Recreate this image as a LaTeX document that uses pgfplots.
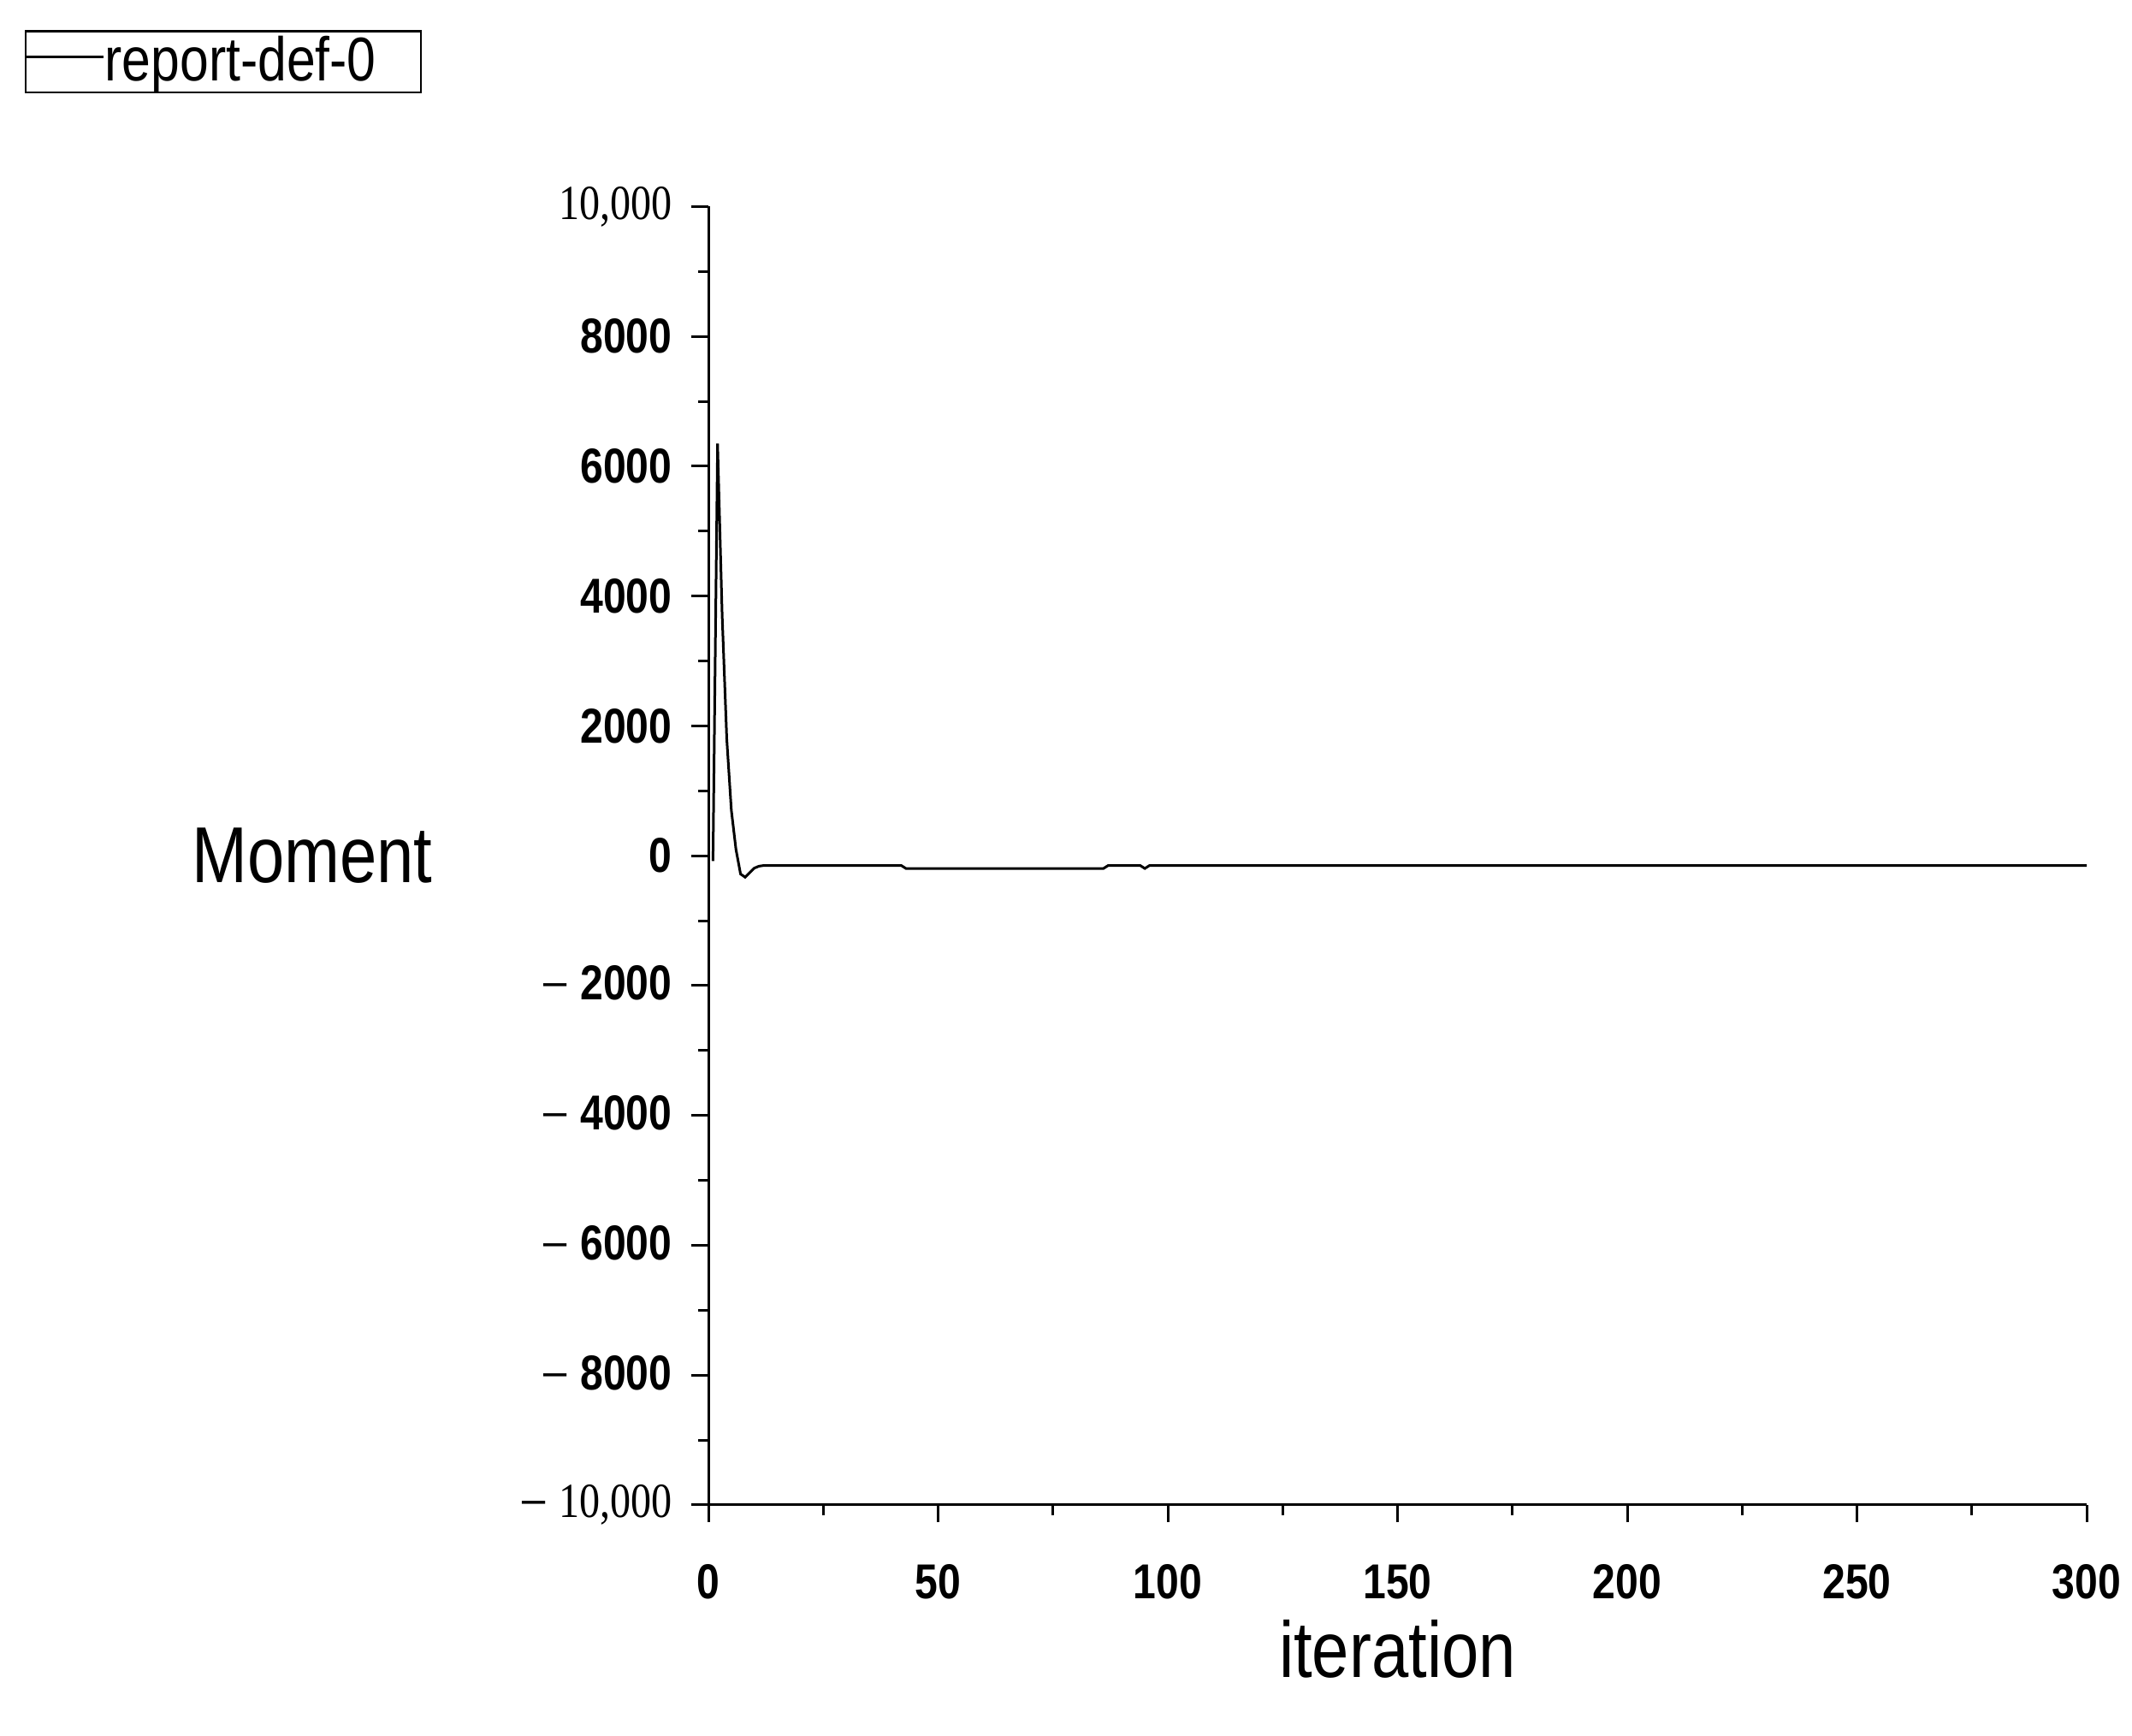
\documentclass[border=0pt]{standalone}
\usepackage{fontspec}
\setmainfont[FakeStretch=0.84]{Liberation Sans}
\newfontfamily\serifnarrow[FakeStretch=0.84]{Liberation Serif}
\usepackage{pgfplots}
\pgfplotsset{compat=1.18}

\newcommand{\neglab}[1]{\raisebox{-1.2bp}{\mdseries\serifnarrow\fontsize{14}{14}\selectfont −}\hspace{2.5bp}#1}

\begin{document}
\begin{tikzpicture}
\useasboundingbox (0,0) rectangle (498.4bp,405.8bp);
\begin{axis}[
    at={(165.6bp,54bp)}, anchor=south west,
    scale only axis,
    width=322.2bp, height=303.5bp,
    axis lines*=left,
    xmin=0, xmax=300,
    ymin=-10000, ymax=10000,
    scaled y ticks=false,
    xtick={0,50,...,300},
    xticklabels={0,50,100,150,200,250,300},
    minor x tick num=1,
    ytick={-10000,-8000,...,10000},
    yticklabels={
        {\neglab{\mdseries\serifnarrow 10,000}},
        {\neglab{8000}}, {\neglab{6000}}, {\neglab{4000}}, {\neglab{2000}},
        {0}, {2000}, {4000}, {6000}, {8000},
        {\mdseries\serifnarrow 10,000}},
    minor y tick num=1,
    tick align=outside,
    major tick length=4bp,
    minor tick length=2.4bp,
    every tick/.style={black, line width=0.6bp},
    axis line style={line width=0.6bp},
    ticklabel style={font=\bfseries\fontsize{11.5}{13}\selectfont},
    xticklabel style={yshift=-6.4bp},
    yticklabel style={xshift=-1bp},
    xlabel={iteration},
    ylabel={Moment},
    label style={font=\fontsize{18.6}{20}\selectfont},
    xlabel style={at={(axis description cs:0.5,0)}, anchor=center, yshift=-33.7bp},
    ylabel style={at={(axis description cs:0,0.5)}, anchor=center, rotate=-90, xshift=-92.6bp},
    legend style={
        at={(axis description cs:-0.496,1.136)}, anchor=north west,
        draw=black, line width=0.5bp,
        inner xsep=0pt, inner ysep=1.2bp,
        font=\fontsize{14.5}{15}\selectfont,
        nodes={inner sep=0pt},
        /tikz/every even column/.append style={column sep=0pt},
    },
    legend cell align=left,
    legend image code/.code={\draw[#1, line width=0.5bp] (0bp,1.2bp) -- (18bp,1.2bp);},
]
\addplot[black, line width=0.6bp] coordinates {
    (1,-80) (2,6350) (3,3700) (4,1800) (5,700) (6,100) (7,-280) (8,-330)
    (9,-260) (10,-190) (11,-160) (12,-150)
    (42,-150) (43,-195) (86,-195) (87,-150)
    (94,-150) (95,-195) (96,-150) (300,-150)
};
\addlegendentry{report-def-0\hspace*{10.5bp}\mbox{}}
\end{axis}
\end{tikzpicture}
\end{document}
